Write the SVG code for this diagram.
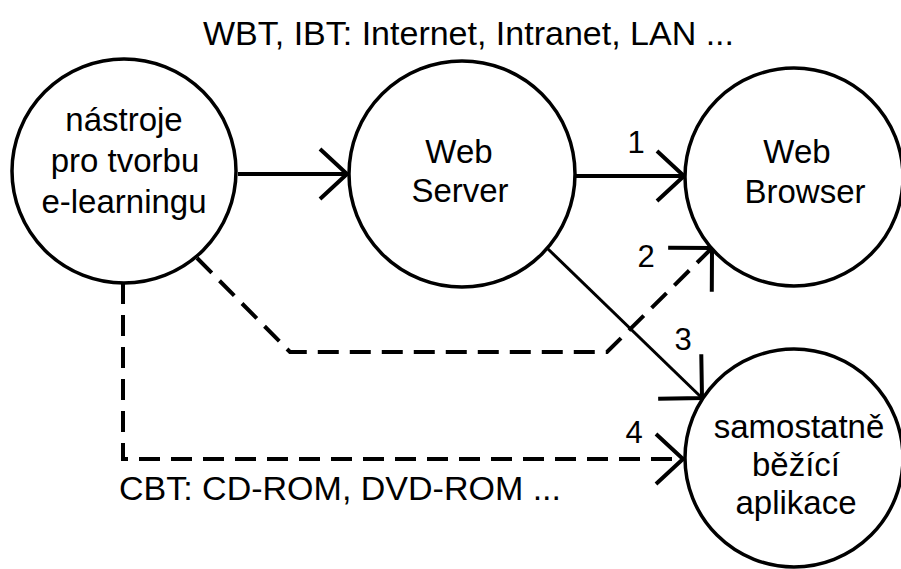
<svg xmlns="http://www.w3.org/2000/svg" width="901" height="569" viewBox="0 0 901 569">
  <style>
    .node { fill: #ffffff; stroke: #000000; stroke-width: 3.5; }
    .lbl { font-family: "Liberation Sans", Arial, sans-serif; font-size: 33px; fill: #000000; text-anchor: middle; }
    .num { font-family: "Liberation Sans", Arial, sans-serif; font-size: 31px; fill: #000000; text-anchor: middle; }
    .note { font-family: "Liberation Sans", Arial, sans-serif; font-size: 34px; fill: #000000; }
    .solid { fill: none; stroke: #000000; stroke-width: 4; }
    .thin { fill: none; stroke: #000000; stroke-width: 3; }
    .dash { fill: none; stroke: #000000; stroke-width: 4; stroke-dasharray: 21 11; }
  </style>
  <defs>
    <!-- open V arrowheads; the larger one sits on the diagonal connectors -->
    <marker id="head" markerUnits="userSpaceOnUse" orient="auto" refX="0" refY="0" markerWidth="40" markerHeight="60" overflow="visible">
      <path d="M-27,-25 L0,0 L-27,25" fill="none" stroke="#000000" stroke-width="4"/>
    </marker>
    <marker id="head-lg" markerUnits="userSpaceOnUse" orient="auto" refX="0" refY="0" markerWidth="40" markerHeight="70" overflow="visible">
      <path d="M-31,-31 L0,0 L-31,31" fill="none" stroke="#000000" stroke-width="4"/>
    </marker>
  </defs>

  <rect x="0" y="0" width="901" height="569" fill="#ffffff"/>

  <text class="note" x="203" y="45">WBT, IBT: Internet, Intranet, LAN ...</text>
  <text class="note" x="119" y="500">CBT: CD-ROM, DVD-ROM ...</text>

  <g id="connectors">
    <line class="solid" x1="238" y1="174" x2="347" y2="174" marker-end="url(#head)"/>
    <line class="solid" x1="574" y1="176" x2="684" y2="176" marker-end="url(#head)"/>
    <polyline class="dash" points="197,258 290,352 607,352 712,248" marker-end="url(#head-lg)"/>
    <line class="thin" x1="547" y1="248" x2="702" y2="398" marker-end="url(#head-lg)"/>
    <polyline class="dash" points="123,283 123,459 683,459" marker-end="url(#head)"/>
    <text class="num" x="636" y="153">1</text>
    <text class="num" x="646" y="267">2</text>
    <text class="num" x="683" y="350">3</text>
    <text class="num" x="634" y="443">4</text>
  </g>

  <g id="authoring-tools">
    <circle class="node" cx="124" cy="171" r="112"/>
    <text class="lbl" x="124" y="131">nástroje</text>
    <text class="lbl" x="125" y="172">pro tvorbu</text>
    <text class="lbl" x="124" y="213">e-learningu</text>
  </g>

  <g id="web-server">
    <circle class="node" cx="462" cy="174" r="113"/>
    <text class="lbl" x="459" y="163">Web</text>
    <text class="lbl" x="460" y="202">Server</text>
  </g>

  <g id="web-browser">
    <circle class="node" cx="794" cy="177" r="109"/>
    <text class="lbl" x="797" y="163">Web</text>
    <text class="lbl" x="805" y="203">Browser</text>
  </g>

  <g id="standalone-app">
    <circle class="node" cx="794" cy="458" r="109"/>
    <text class="lbl" x="799" y="438">samostatně</text>
    <text class="lbl" x="796" y="476">běžící</text>
    <text class="lbl" x="796" y="514">aplikace</text>
  </g>
</svg>
